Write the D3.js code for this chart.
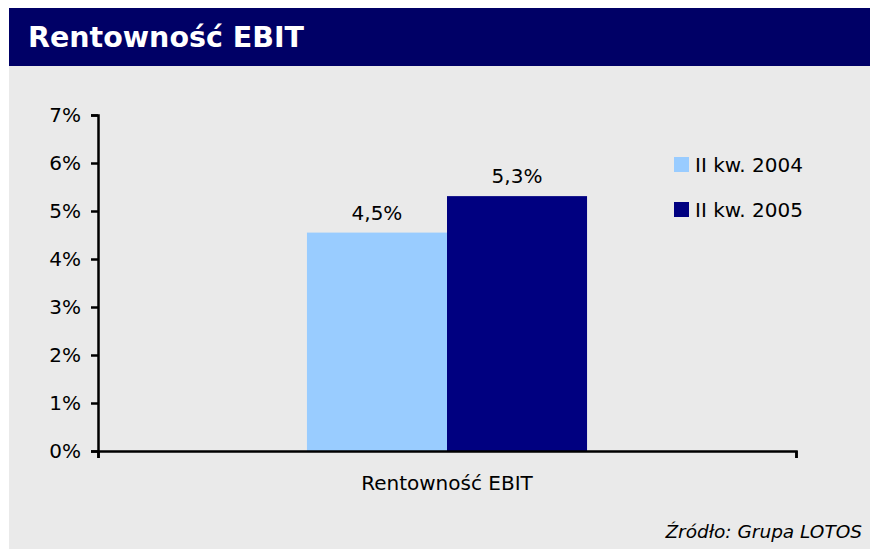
<!DOCTYPE html>
<html>
<head>
<meta charset="utf-8">
<script src="https://cdn.jsdelivr.net/npm/d3@7"></script>
<style>
  body { margin: 0; background: #ffffff; }
  svg { display: block; }
  text { font-family: "DejaVu Sans", Verdana, sans-serif; fill: #000; }
</style>
</head>
<body>
<svg id="chart" width="870" height="549"></svg>
<script>
/***************************************************************
    Data
****************************************************************/
const categories = ["Rentowność EBIT"];
const seriesNames = ["II kw. 2004", "II kw. 2005"];
const seriesValues = [0.0455, 0.0531];
const valueLabels = ["4,5%", "5,3%"];
const yTicks = [0, 0.01, 0.02, 0.03, 0.04, 0.05, 0.06, 0.07];
const colors = ["#99ccff", "#000080"];

/***************************************************************
    Chart
****************************************************************/
const svg = d3.select("#chart");

// panel + title bar
svg.append("rect").attr("x", 9).attr("y", 66).attr("width", 861).attr("height", 483).attr("fill", "#eaeaea");
svg.append("rect").attr("x", 9).attr("y", 8).attr("width", 861).attr("height", 58).attr("fill", "#000066");
svg.append("text").attr("x", 28).attr("y", 47)
    .style("font-weight", "bold").style("font-size", "28.5px").style("fill", "#fff")
    .text("Rentowność EBIT");

const plot = { left: 98, right: 796, top: 115, bottom: 451 };

var y = d3.scaleLinear().domain([0, 0.07]).range([plot.bottom, plot.top]);
var xCat = d3.scaleBand().domain(categories).range([plot.left, plot.right]).paddingInner(0).paddingOuter(0.746);
var xSeries = d3.scaleBand().domain(seriesNames).range([0, xCat.bandwidth()]).padding(0);
var xEdge = d3.scaleLinear().domain([0, 1]).range([plot.left, plot.right]);

// bars
const g = svg.append("g");
const rows = seriesNames.map((s, i) => ({ name: s, value: seriesValues[i], label: valueLabels[i], color: colors[i] }));

categories.forEach(cat => {
    g.selectAll("rect.bar").data(rows).enter().append("rect")
        .attr("class", "bar")
        .attr("x", d => xCat(cat) + xSeries(d.name))
        .attr("y", d => y(d.value))
        .attr("width", xSeries.bandwidth())
        .attr("height", d => y(0) - y(d.value))
        .attr("fill", d => d.color);

    g.selectAll("text.val").data(rows).enter().append("text")
        .attr("class", "val")
        .attr("x", d => xCat(cat) + xSeries(d.name) + xSeries.bandwidth() / 2)
        .attr("y", d => y(d.value) - 13)
        .attr("text-anchor", "middle")
        .style("font-size", "20px")
        .text(d => d.label);

    svg.append("text")
        .attr("x", xCat(cat) + xCat.bandwidth() / 2)
        .attr("y", 490)
        .attr("text-anchor", "middle")
        .style("font-size", "20px")
        .text(cat);
});

// axes
const yAxis = svg.append("g").attr("transform", `translate(${plot.left},0)`)
    .call(d3.axisLeft(y).tickValues(yTicks).tickFormat(d3.format(".0%")).tickSizeOuter(0).tickSize(7).tickPadding(10));
const xAxis = svg.append("g").attr("transform", `translate(0,${plot.bottom})`)
    .call(d3.axisBottom(xEdge).tickValues([0, 1]).tickFormat("").tickSizeOuter(0).tickSize(7));

[yAxis, xAxis].forEach(a => {
    a.select(".domain").attr("stroke", "#000").attr("stroke-width", 2.5);
    a.selectAll(".tick line").attr("stroke", "#000").attr("stroke-width", 2.5);
    a.selectAll(".tick text").style("font-size", "20px").style("font-family", "'DejaVu Sans', Verdana, sans-serif").attr("fill", "#000");
});

// legend
const legend = svg.append("g").attr("transform", "translate(674,157)");
rows.forEach((d, i) => {
    legend.append("rect").attr("x", 0).attr("y", i * 45).attr("width", 15).attr("height", 15).attr("fill", d.color);
    legend.append("text").attr("x", 21).attr("y", i * 45 + 15).style("font-size", "20px").text(d.name);
});

// source
svg.append("text").attr("x", 862).attr("y", 538).attr("text-anchor", "end")
    .style("font-size", "18.5px").style("font-style", "italic")
    .text("Źródło: Grupa LOTOS");
</script>
</body>
</html>
